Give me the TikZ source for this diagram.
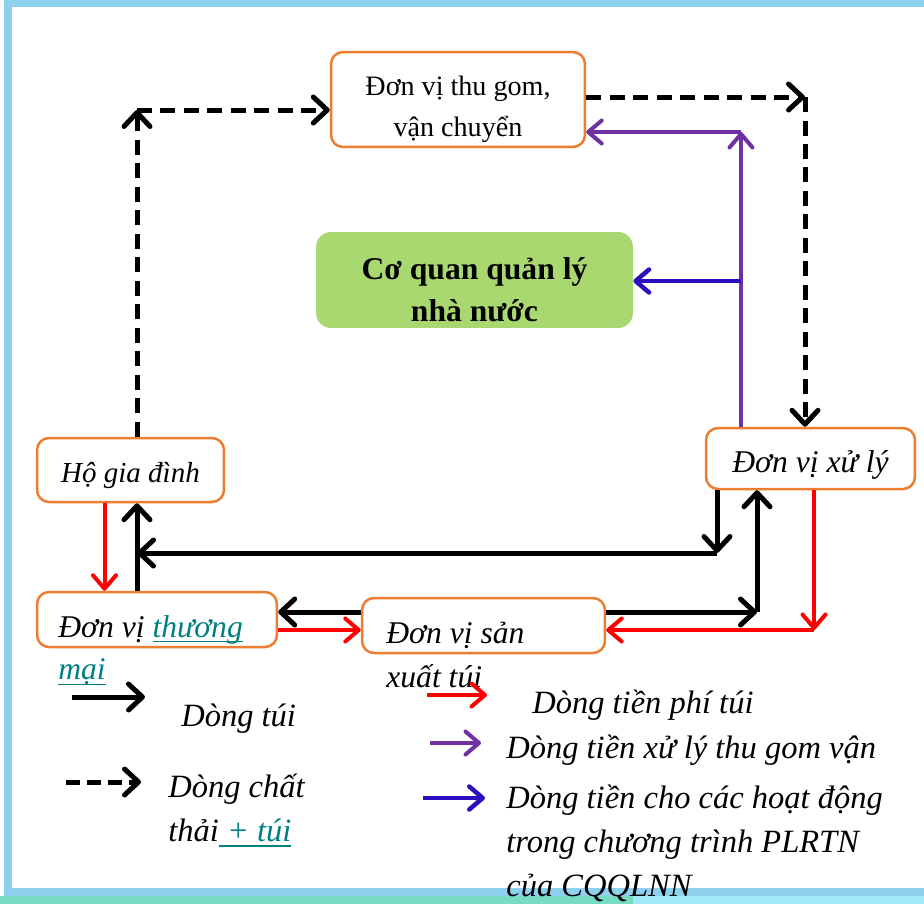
\documentclass[tikz,border=0pt]{standalone}
\usepackage{fontspec}
\setmainfont{Liberation Serif}
\usetikzlibrary{arrows.meta}
\definecolor{boxorange}{RGB}{237,125,49}
\definecolor{boxgreen}{RGB}{169,216,112}
\definecolor{flowred}{RGB}{255,0,0}
\definecolor{flowpurple}{RGB}{112,48,160}
\definecolor{flowblue}{RGB}{42,16,192}
\definecolor{linkteal}{RGB}{0,128,128}
\definecolor{framesky}{RGB}{142,209,238}
\definecolor{frameteal}{RGB}{120,219,196}
\definecolor{framecyan}{RGB}{160,232,250}
\newcommand\linkul[1]{\textcolor{linkteal}{\setbox0\hbox{#1}\rlap{\rule[-3pt]{\wd0}{0.8pt}}\box0}}
\newcommand\leftlines[1]{\begin{tabular}[t]{@{}l@{}}#1\end{tabular}}
\newcommand\midlines[1]{\begin{tabular}[t]{@{}c@{}}#1\end{tabular}}
\tikzset{
  unit/.style={draw=boxorange,line width=0.05cm,rounded corners=0.24cm,fill=white,inner sep=0pt},
  bagflow/.style={line width=0.1cm,-{Straight Barb[length=0.28cm,width=0.52cm,round]}},
  wasteflow/.style={bagflow,dash pattern=on 0.3cm off 0.17cm},
  feeflow/.style={flowred,line width=0.08cm,-{Straight Barb[length=0.27cm,width=0.46cm,round]}},
  collectflow/.style={flowpurple,line width=0.08cm,-{Straight Barb[length=0.27cm,width=0.46cm,round]}},
  programflow/.style={flowblue,line width=0.09cm,-{Straight Barb[length=0.27cm,width=0.46cm,round]}},
  keytext/.style={anchor=base west,inner sep=0pt,font=\fontsize{18.5}{25.3}\selectfont\itshape}
}
\begin{document}
\begin{tikzpicture}[x=0.02cm,y=-0.02cm]
\useasboundingbox (0,0) rectangle (924,904);
\fill[frameteal] (0,896) rectangle (633,904);
\fill[framecyan] (633,896) rectangle (924,904);
\draw[framesky,line width=0.16cm] (8,3) rectangle (940,892);

\node[unit,minimum width=5.08cm,minimum height=1.9cm,text height=0.5cm,text depth=0.68cm,
  font=\fontsize{16}{23.8}\selectfont] (tg) at (458,99.5) {\midlines{Đơn vị thu gom,\\vận chuyển}};
\node[fill=boxgreen,rounded corners=0.3cm,inner sep=0pt,minimum width=6.34cm,minimum height=1.92cm,
  text height=0.5cm,text depth=0.54cm,font=\fontsize{18}{24.4}\selectfont\bfseries] (cq) at (474.5,280)
  {\midlines{Cơ quan quản lý\\nhà nước}};
\node[unit,minimum width=3.74cm,minimum height=1.28cm,text height=0.58cm,text depth=0.1cm,
  font=\fontsize{16.5}{20}\selectfont\itshape] (hgd) at (130.5,470) {Hộ gia đình};
\node[unit,minimum width=4.18cm,minimum height=1.22cm,text height=0.64cm,text depth=0.1cm,
  font=\fontsize{18}{22}\selectfont\itshape] (xl) at (810.5,458.5) {Đơn vị xử lý};
\node[unit,minimum width=4.8cm,minimum height=1.1cm] (tm) at (157,619.5) {};
\node[unit,minimum width=4.86cm,minimum height=1.1cm] (sx) at (483.5,625.5) {};
\node[keytext,font=\fontsize{18}{24.4}\selectfont\itshape] (tmtext) at (58,637)
  {\leftlines{Đơn vị \linkul{thương}\\\linkul{mại}}};
\node[keytext,font=\fontsize{18}{25.5}\selectfont\itshape] (sxtext) at (386,643) {\leftlines{Đơn vị sản\\xuất túi}};

\coordinate (c1) at (137,110);
\coordinate (c2) at (805,97);
\coordinate (c3) at (741,132);
\coordinate (c4) at (741,281);
\coordinate (c5) at (717,553);
\coordinate (c6) at (137,553);
\coordinate (c7) at (757,612);
\coordinate (c8) at (814,630);

\draw[wasteflow] (hgd.north -| c1) -- (c1);
\draw[wasteflow] (c1) -- (tg.west |- c1);
\draw[wasteflow] (tg.east |- c2) -- (c2);
\draw[wasteflow] (c2) -- (xl.north -| c2);

\draw[collectflow] (xl.north -| c3) -- (c3);
\draw[collectflow] (c3) -- (tg.east |- c3);
\draw[programflow] (c4) -- (cq.east |- c4);

\draw[bagflow] (xl.south -| c5) -- (c5);
\draw[bagflow] (c5) -- (c6);
\draw[bagflow] (tm.north -| c6) -- (hgd.south -| c6);
\draw[feeflow] ([xshift=-0.52cm]hgd.south) -- ([xshift=-0.52cm]hgd.south |- tm.north);
\draw[bagflow] (sx.west |- c7) -- (tm.east |- c7);
\draw[feeflow] (tm.east |- c8) -- (sx.west |- c8);
\draw[bagflow] (sx.east |- c7) -- (c7);
\draw[bagflow] (c7) -- (xl.south -| c7);
\draw[feeflow] (xl.south -| c8) -- (c8);
\draw[feeflow] (c8) -- (sx.east |- c8);

\coordinate (k1a) at (72,697);
\coordinate (k1b) at (145,697);
\coordinate (k2a) at (66,782);
\coordinate (k2b) at (141,782);
\coordinate (k3a) at (427,695);
\coordinate (k3b) at (487,695);
\coordinate (k4a) at (430,743);
\coordinate (k4b) at (481,743);
\coordinate (k5a) at (423,798);
\coordinate (k5b) at (485,798);
\draw[bagflow] (k1a) -- (k1b);
\draw[bagflow,dash pattern=on 0.28cm off 0.14cm] (k2a) -- (k2b);
\draw[feeflow] (k3a) -- (k3b);
\draw[collectflow] (k4a) -- (k4b);
\draw[programflow] (k5a) -- (k5b);
\node[keytext] (k1) at (181,726) {Dòng túi};
\node[keytext] (k2) at (168,797) {\leftlines{Dòng chất\\thải\linkul{~+ túi}}};
\node[keytext] (k3) at (532,713) {Dòng tiền phí túi};
\node[keytext] (k4) at (506,758) {Dòng tiền xử lý thu gom vận};
\node[keytext] (k5) at (506,808) {\leftlines{Dòng tiền cho các hoạt động\\trong chương trình PLRTN\\của CQQLNN}};
\end{tikzpicture}
\end{document}
